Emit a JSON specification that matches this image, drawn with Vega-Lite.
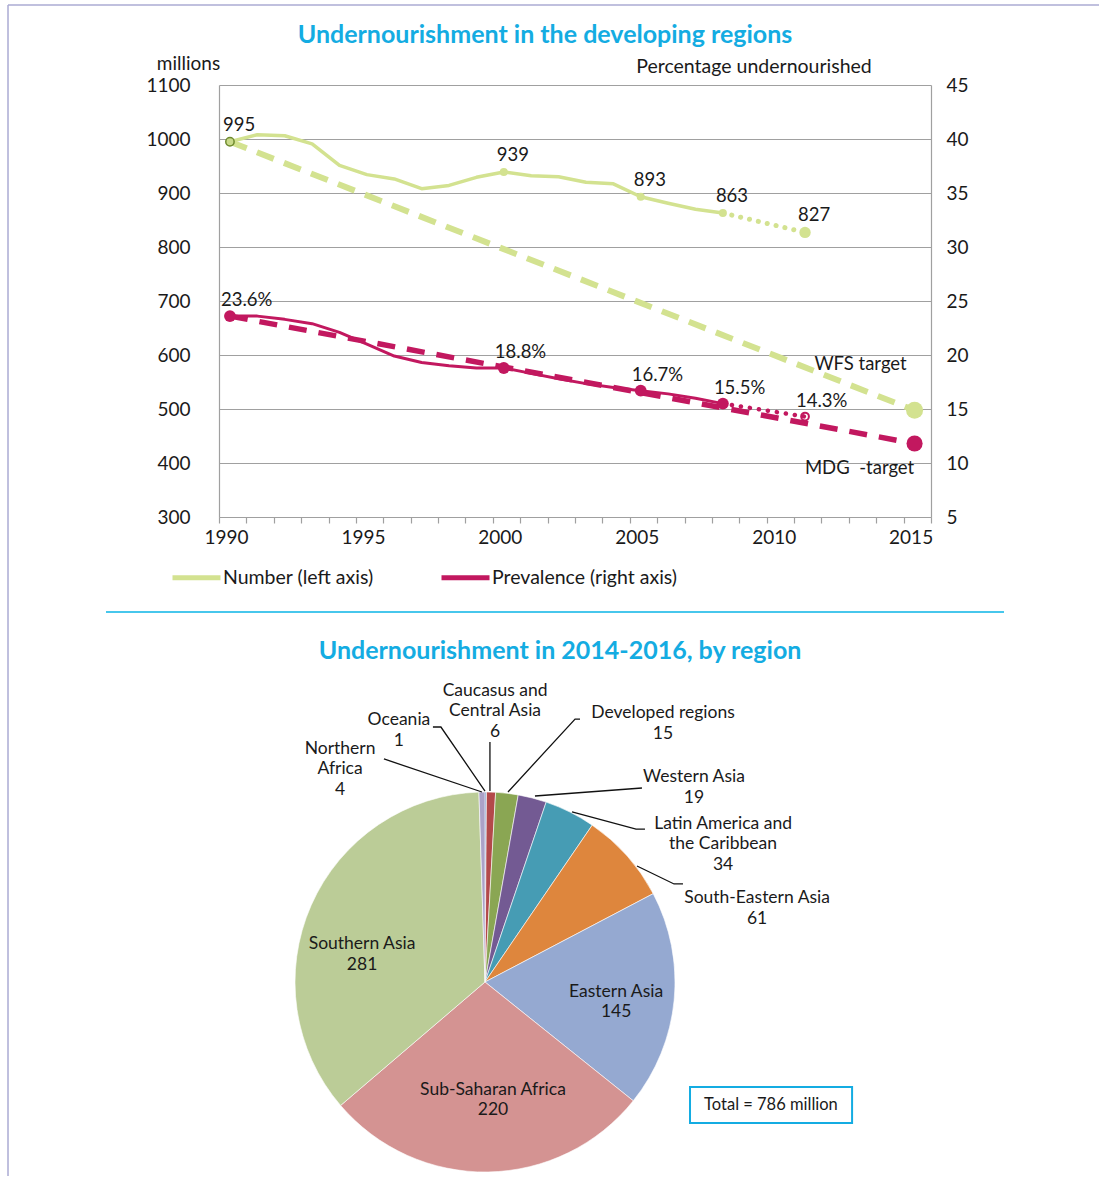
{
  "$schema": "https://vega.github.io/schema/vega-lite/v6.json",
  "background": "white",
  "padding": {"left": 7, "top": 4, "right": 0, "bottom": 0},
  "bounds": "flush",
  "spacing": 163,
  "config": {"font": "Lato", "view": {"stroke": null}},
  "resolve": {"scale": {"color": "independent", "x": "independent", "y": "independent"}, "legend": {"color": "independent"}},
  "datasets": {
    "number": [
      {"year": 1990, "value": 995, "part": "estimate"},
      {"year": 1991, "value": 1008, "part": "estimate"},
      {"year": 1992, "value": 1006, "part": "estimate"},
      {"year": 1993, "value": 991, "part": "estimate"},
      {"year": 1994, "value": 951, "part": "estimate"},
      {"year": 1995, "value": 934, "part": "estimate"},
      {"year": 1996, "value": 926, "part": "estimate"},
      {"year": 1997, "value": 908, "part": "estimate"},
      {"year": 1998, "value": 914, "part": "estimate"},
      {"year": 1999, "value": 929, "part": "estimate"},
      {"year": 2000, "value": 939, "part": "estimate"},
      {"year": 2001, "value": 932, "part": "estimate"},
      {"year": 2002, "value": 930, "part": "estimate"},
      {"year": 2003, "value": 920, "part": "estimate"},
      {"year": 2004, "value": 917, "part": "estimate"},
      {"year": 2005, "value": 893, "part": "estimate"},
      {"year": 2006, "value": 881, "part": "estimate"},
      {"year": 2007, "value": 870, "part": "estimate"},
      {"year": 2008, "value": 863, "part": "estimate"},
      {"year": 2008, "value": 863, "part": "projection"},
      {"year": 2011, "value": 827, "part": "projection"},
      {"year": 1990, "value": 995, "part": "target"},
      {"year": 2015, "value": 497.5, "part": "target"}
    ],
    "numberPoints": [
      {"year": 1990, "value": 995, "label": "995"},
      {"year": 2000, "value": 939, "label": "939"},
      {"year": 2005, "value": 893, "label": "893"},
      {"year": 2008, "value": 863, "label": "863"},
      {"year": 2011, "value": 827, "label": "827"},
      {"year": 2015, "value": 497.5, "label": "WFS target"}
    ],
    "prevalence": [
      {"year": 1990, "value": 23.6, "part": "estimate"},
      {"year": 1991, "value": 23.6, "part": "estimate"},
      {"year": 1992, "value": 23.3, "part": "estimate"},
      {"year": 1993, "value": 22.9, "part": "estimate"},
      {"year": 1994, "value": 22.1, "part": "estimate"},
      {"year": 1995, "value": 21.0, "part": "estimate"},
      {"year": 1996, "value": 19.9, "part": "estimate"},
      {"year": 1997, "value": 19.3, "part": "estimate"},
      {"year": 1998, "value": 19.0, "part": "estimate"},
      {"year": 1999, "value": 18.8, "part": "estimate"},
      {"year": 2000, "value": 18.8, "part": "estimate"},
      {"year": 2001, "value": 18.3, "part": "estimate"},
      {"year": 2002, "value": 17.8, "part": "estimate"},
      {"year": 2003, "value": 17.35, "part": "estimate"},
      {"year": 2004, "value": 17.0, "part": "estimate"},
      {"year": 2005, "value": 16.7, "part": "estimate"},
      {"year": 2006, "value": 16.4, "part": "estimate"},
      {"year": 2007, "value": 16.0, "part": "estimate"},
      {"year": 2008, "value": 15.5, "part": "estimate"},
      {"year": 2008, "value": 15.5, "part": "projection"},
      {"year": 2011, "value": 14.3, "part": "projection"},
      {"year": 1990, "value": 23.6, "part": "target"},
      {"year": 2015, "value": 11.8, "part": "target"}
    ],
    "prevalencePoints": [
      {"year": 1990, "value": 23.6, "label": "23.6%"},
      {"year": 2000, "value": 18.8, "label": "18.8%"},
      {"year": 2005, "value": 16.7, "label": "16.7%"},
      {"year": 2008, "value": 15.5, "label": "15.5%"},
      {"year": 2011, "value": 14.3, "label": "14.3%"},
      {"year": 2015, "value": 11.8, "label": "MDG\u00a0 -target"}
    ],
    "regions": [
      {"region": "Oceania", "value": 1, "order": 1},
      {"region": "Caucasus and Central Asia", "value": 6, "order": 2},
      {"region": "Developed regions", "value": 15, "order": 3},
      {"region": "Western Asia", "value": 19, "order": 4},
      {"region": "Latin America and the Caribbean", "value": 34, "order": 5},
      {"region": "South-Eastern Asia", "value": 61, "order": 6},
      {"region": "Eastern Asia", "value": 145, "order": 7},
      {"region": "Sub-Saharan Africa", "value": 220, "order": 8},
      {"region": "Southern Asia", "value": 281, "order": 9},
      {"region": "Northern Africa", "value": 4, "order": 10}
    ],
    "regionLabels": [
      {"label": "Northern\nAfrica\n4", "x": -76.3, "y": 127.4},
      {"label": "Oceania\n1", "x": -45.3, "y": 142.6},
      {"label": "Caucasus and\nCentral Asia\n6", "x": 5.3, "y": 157.9},
      {"label": "Developed regions\n15", "x": 93.7, "y": 146.3},
      {"label": "Western Asia\n19", "x": 110, "y": 112.6},
      {"label": "Latin America and\nthe Caribbean\n34", "x": 125.3, "y": 87.9},
      {"label": "South-Eastern Asia\n61", "x": 143.2, "y": 48.9},
      {"label": "Southern Asia\n281", "x": -64.7, "y": 24.7},
      {"label": "Sub-Saharan Africa\n220", "x": 4.2, "y": -52.1},
      {"label": "Eastern Asia\n145", "x": 69, "y": -0.5}
    ],
    "leaders": [
      {"id": "Northern Africa", "seq": 1, "x": -53.2, "y": 117.4},
      {"id": "Northern Africa", "seq": 2, "x": -1.6, "y": 100.0},
      {"id": "Oceania", "seq": 1, "x": -27.4, "y": 134.2},
      {"id": "Oceania", "seq": 2, "x": -23.2, "y": 134.2},
      {"id": "Oceania", "seq": 3, "x": 0, "y": 100.5},
      {"id": "Caucasus", "seq": 1, "x": 2.6, "y": 126.3},
      {"id": "Caucasus", "seq": 2, "x": 2.6, "y": 100.5},
      {"id": "Developed", "seq": 1, "x": 50, "y": 138.4},
      {"id": "Developed", "seq": 2, "x": 47.4, "y": 138.4},
      {"id": "Developed", "seq": 3, "x": 12.1, "y": 100},
      {"id": "Western Asia", "seq": 1, "x": 82.6, "y": 102.1},
      {"id": "Western Asia", "seq": 2, "x": 26.3, "y": 97.9},
      {"id": "Latin America", "seq": 1, "x": 84.2, "y": 80.5},
      {"id": "Latin America", "seq": 2, "x": 79.5, "y": 80.5},
      {"id": "Latin America", "seq": 3, "x": 45.8, "y": 89.5},
      {"id": "South-Eastern Asia", "seq": 1, "x": 104.2, "y": 51.6},
      {"id": "South-Eastern Asia", "seq": 2, "x": 99.5, "y": 51.6},
      {"id": "South-Eastern Asia", "seq": 3, "x": 80, "y": 61.05}
    ]
  },
  "vconcat": [
    {
      "width": 712,
      "height": 432,
      "encoding": {
        "x": {
          "field": "year", "type": "quantitative", "title": null,
          "scale": {"domain": [1989.6, 2015.6], "nice": false, "zero": false},
          "axis": {
            "values": [1989.6, 1990.6, 1991.6, 1992.6, 1993.6, 1994.6, 1995.6, 1996.6, 1997.6, 1998.6, 1999.6, 2000.6, 2001.6, 2002.6, 2003.6, 2004.6, 2005.6, 2006.6, 2007.6, 2008.6, 2009.6, 2010.6, 2011.6, 2012.6, 2013.6, 2014.6, 2015.6],
            "labelExpr": "round(datum.value) % 5 == 0 ? '' + round(datum.value) : ''",
            "labelOffset": 7, "labelFlush": false, "labelOverlap": false, "labelBound": false,
            "grid": false, "tickSize": 6, "tickColor": "#a0a0a0", "tickWidth": 1.2,
            "domainColor": "#a0a0a0", "domainWidth": 1.2,
            "labelPadding": 5, "labelFontSize": 19, "labelColor": "#1a1a1a", "labelFont": "Lato"
          }
        }
      },
      "layer": [
        {
          "encoding": {
            "y": {
              "field": "value", "type": "quantitative",
              "scale": {"domain": [300, 1100], "nice": false, "zero": false},
              "axis": {
                "orient": "left", "values": [300, 400, 500, 600, 700, 800, 900, 1000, 1100], "format": "d",
                "grid": true, "gridColor": "#a0a0a0", "gridWidth": 1.2,
                "domainColor": "#a0a0a0", "domainWidth": 1.2, "ticks": false,
                "labelPadding": 29, "labelFontSize": 19, "labelColor": "#1a1a1a", "labelFont": "Lato", "labelFlush": false,
                "title": "millions", "titleAngle": 0, "titleAlign": "center", "titleBaseline": "alphabetic",
                "titleX": -31, "titleY": -16, "titleFontSize": 19, "titleFontWeight": "normal", "titleColor": "#1a1a1a", "titleFont": "Lato"
              }
            }
          },
          "layer": [
            {
              "data": {"name": "number"},
              "transform": [{"filter": "datum.part == 'target'"}],
              "mark": {"type": "line", "color": "#D3E290", "strokeWidth": 6, "strokeDash": [18, 11]}
            },
            {
              "data": {"name": "number"},
              "transform": [{"filter": "datum.part == 'estimate'"}],
              "mark": {"type": "line", "strokeWidth": 3.5, "strokeJoin": "round"},
              "encoding": {
                "color": {
                  "datum": "Number (left axis)", "type": "nominal",
                  "scale": {"domain": ["Number (left axis)", "Prevalence (right axis)"], "range": ["#D3E290", "#C2185F"]},
                  "legend": {
                    "orient": "none", "legendX": -49, "legendY": 466, "direction": "horizontal", "title": null,
                    "symbolType": "stroke", "symbolSize": 2304, "symbolStrokeWidth": 5,
                    "labelFontSize": 19.5, "labelFont": "Lato", "labelColor": "#1a1a1a", "labelOffset": 0,
                    "columnPadding": 57, "padding": 0, "labelLimit": 400
                  }
                }
              }
            },
            {
              "data": {"name": "number"},
              "transform": [{"filter": "datum.part == 'projection'"}],
              "mark": {"type": "line", "color": "#D3E290", "strokeWidth": 5, "strokeDash": [0.1, 9], "strokeCap": "round"}
            },
            {
              "data": {"name": "numberPoints"},
              "transform": [{"filter": "datum.year == 2000 || datum.year == 2005 || datum.year == 2008"}],
              "mark": {"type": "point", "shape": "circle", "filled": true, "size": 65, "color": "#D3E290", "opacity": 1}
            },
            {
              "data": {"name": "numberPoints"},
              "transform": [{"filter": "datum.year == 2011"}],
              "mark": {"type": "point", "shape": "circle", "filled": true, "size": 130, "color": "#D3E290", "opacity": 1}
            },
            {
              "data": {"name": "numberPoints"},
              "transform": [{"filter": "datum.year == 1990"}],
              "mark": {"type": "point", "shape": "circle", "filled": true, "size": 70, "fill": "#C9DA8A", "stroke": "#6E8A2E", "strokeWidth": 1.5, "opacity": 1}
            },
            {
              "data": {"name": "numberPoints"},
              "transform": [{"filter": "datum.year == 2015"}],
              "mark": {"type": "point", "shape": "circle", "filled": true, "size": 290, "color": "#D3E290", "opacity": 1}
            },
            {
              "data": {"name": "numberPoints"},
              "transform": [{"filter": "datum.year < 2015"}],
              "mark": {"type": "text", "align": "left", "baseline": "middle", "dx": -7, "dy": -17, "fontSize": 18.5, "color": "#1a1a1a"},
              "encoding": {"text": {"field": "label"}}
            },
            {
              "data": {"name": "numberPoints"},
              "transform": [{"filter": "datum.year == 2015"}],
              "mark": {"type": "text", "align": "center", "baseline": "middle", "dx": -54, "dy": -46, "fontSize": 18.5, "color": "#1a1a1a"},
              "encoding": {"text": {"field": "label"}}
            }
          ]
        },
        {
          "encoding": {
            "y": {
              "field": "value", "type": "quantitative",
              "scale": {"domain": [5, 45], "nice": false, "zero": false},
              "axis": {
                "orient": "right", "values": [5, 10, 15, 20, 25, 30, 35, 40, 45],
                "grid": false, "domainColor": "#a0a0a0", "domainWidth": 1.2, "ticks": false,
                "labelPadding": 15, "labelFontSize": 19, "labelColor": "#1a1a1a", "labelFont": "Lato", "labelFlush": false,
                "title": "Percentage undernourished", "titleAngle": 0, "titleAlign": "center", "titleBaseline": "alphabetic",
                "titleX": -177.5, "titleY": -13, "titleFontSize": 19.5, "titleFontWeight": "normal", "titleColor": "#1a1a1a", "titleFont": "Lato"
              }
            }
          },
          "layer": [
            {
              "data": {"name": "prevalence"},
              "transform": [{"filter": "datum.part == 'estimate'"}],
              "mark": {"type": "line", "strokeWidth": 3, "strokeJoin": "round"},
              "encoding": {
                "color": {"datum": "Prevalence (right axis)", "type": "nominal"}
              }
            },
            {
              "data": {"name": "prevalence"},
              "transform": [{"filter": "datum.part == 'target'"}],
              "mark": {"type": "line", "color": "#C2185F", "strokeWidth": 5.5, "strokeDash": [18, 12]}
            },
            {
              "data": {"name": "prevalence"},
              "transform": [{"filter": "datum.part == 'projection'"}],
              "mark": {"type": "line", "color": "#C2185F", "strokeWidth": 4.5, "strokeDash": [0.1, 9], "strokeCap": "round"}
            },
            {
              "data": {"name": "prevalencePoints"},
              "transform": [{"filter": "datum.year < 2011"}],
              "mark": {"type": "point", "shape": "circle", "filled": true, "size": 140, "color": "#C2185F", "opacity": 1}
            },
            {
              "data": {"name": "prevalencePoints"},
              "transform": [{"filter": "datum.year == 2011"}],
              "mark": {"type": "point", "shape": "circle", "filled": false, "size": 60, "color": "#C2185F", "strokeWidth": 2, "opacity": 1}
            },
            {
              "data": {"name": "prevalencePoints"},
              "transform": [{"filter": "datum.year == 2015"}],
              "mark": {"type": "point", "shape": "circle", "filled": true, "size": 260, "color": "#C2185F", "opacity": 1}
            },
            {
              "data": {"name": "prevalencePoints"},
              "transform": [{"filter": "datum.year < 2015"}],
              "mark": {"type": "text", "align": "left", "baseline": "middle", "dx": -9, "dy": -16, "fontSize": 18.5, "color": "#1a1a1a"},
              "encoding": {"text": {"field": "label"}}
            },
            {
              "data": {"name": "prevalencePoints"},
              "transform": [{"filter": "datum.year == 2015"}],
              "mark": {"type": "text", "align": "center", "baseline": "middle", "dx": -55, "dy": 24, "fontSize": 18.5, "color": "#1a1a1a"},
              "encoding": {"text": {"field": "label"}}
            }
          ]
        }
      ],
      "resolve": {"scale": {"y": "independent"}}
    },
    {
      "width": 712,
      "height": 496,
      "layer": [
        {
          "data": {"values": [{}]},
          "mark": {"type": "rule", "color": "#ABABD3", "strokeWidth": 1.5},
          "encoding": {
            "x": {"datum": -251.05, "type": "quantitative", "scale": {"domain": [-140, 234.737], "nice": false, "zero": false}, "axis": null},
            "y": {"datum": 514.21, "type": "quantitative", "scale": {"domain": [-102.105, 158.947], "nice": false, "zero": false}, "axis": null},
            "y2": {"datum": -102.1}
          }
        },
        {
          "data": {"values": [{}]},
          "mark": {"type": "rule", "color": "#ABABD3", "strokeWidth": 1.5},
          "encoding": {
            "x": {"datum": -251.05, "type": "quantitative"},
            "x2": {"datum": 323.16},
            "y": {"datum": 514.21, "type": "quantitative"}
          }
        },
        {
          "data": {"values": [{}]},
          "mark": {"type": "rule", "color": "#0AB4E6", "strokeWidth": 1.5},
          "encoding": {
            "x": {"datum": -199.47, "type": "quantitative"},
            "x2": {"datum": 273.16},
            "y": {"datum": 194.74, "type": "quantitative"}
          }
        },
        {
          "data": {"values": [{}]},
          "mark": {"type": "text", "text": "Undernourishment in the developing regions", "align": "center", "baseline": "alphabetic", "fontSize": 25, "fontWeight": "bold", "color": "#14ACE2"},
          "encoding": {"x": {"datum": 31.6, "type": "quantitative"}, "y": {"datum": 494.2, "type": "quantitative"}}
        },
        {
          "data": {"values": [{}]},
          "mark": {"type": "text", "text": "Undernourishment in 2014-2016, by region", "align": "center", "baseline": "alphabetic", "fontSize": 25, "fontWeight": "bold", "color": "#14ACE2"},
          "encoding": {"x": {"datum": 39.5, "type": "quantitative"}, "y": {"datum": 170, "type": "quantitative"}}
        },
        {
          "data": {"name": "regions"},
          "mark": {"type": "arc", "outerRadius": 190, "stroke": "#ffffff", "strokeWidth": 0.6},
          "encoding": {
            "x": {"datum": 0, "type": "quantitative"},
            "y": {"datum": 0, "type": "quantitative"},
            "theta": {"field": "value", "type": "quantitative", "stack": true},
            "order": {"field": "order", "type": "quantitative"},
            "color": {
              "field": "region", "type": "nominal", "legend": null,
              "scale": {
                "domain": ["Oceania", "Caucasus and Central Asia", "Developed regions", "Western Asia", "Latin America and the Caribbean", "South-Eastern Asia", "Eastern Asia", "Sub-Saharan Africa", "Southern Asia", "Northern Africa"],
                "range": ["#4F81BD", "#B3494A", "#8AA653", "#735A93", "#469CB4", "#DE863D", "#95A9D1", "#D49392", "#BBCC97", "#ABA2C8"]
              }
            }
          }
        },
        {
          "data": {"name": "leaders"},
          "mark": {"type": "line", "color": "#111111", "strokeWidth": 1.3},
          "encoding": {
            "x": {"field": "x", "type": "quantitative"},
            "y": {"field": "y", "type": "quantitative"},
            "detail": {"field": "id"},
            "order": {"field": "seq"}
          }
        },
        {
          "data": {"name": "regionLabels"},
          "mark": {"type": "text", "align": "center", "baseline": "top", "lineBreak": "\n", "lineHeight": 20.5, "fontSize": 17.5, "color": "#1a1a1a"},
          "encoding": {
            "x": {"field": "x", "type": "quantitative"},
            "y": {"field": "y", "type": "quantitative"},
            "text": {"field": "label"}
          }
        },
        {
          "data": {"values": [{}]},
          "mark": {"type": "rect", "fill": "#ffffff", "stroke": "#14ACE2", "strokeWidth": 2},
          "encoding": {
            "x": {"datum": 107.9, "type": "quantitative"},
            "x2": {"datum": 193.2},
            "y": {"datum": -55.3, "type": "quantitative"},
            "y2": {"datum": -74.2}
          }
        },
        {
          "data": {"values": [{}]},
          "mark": {"type": "text", "align": "center", "baseline": "middle", "fontSize": 16.5, "color": "#1a1a1a", "text": "Total = 786 million"},
          "encoding": {
            "x": {"datum": 150.5, "type": "quantitative"},
            "y": {"datum": -64.7, "type": "quantitative"}
          }
        }
      ]
    }
  ]
}
